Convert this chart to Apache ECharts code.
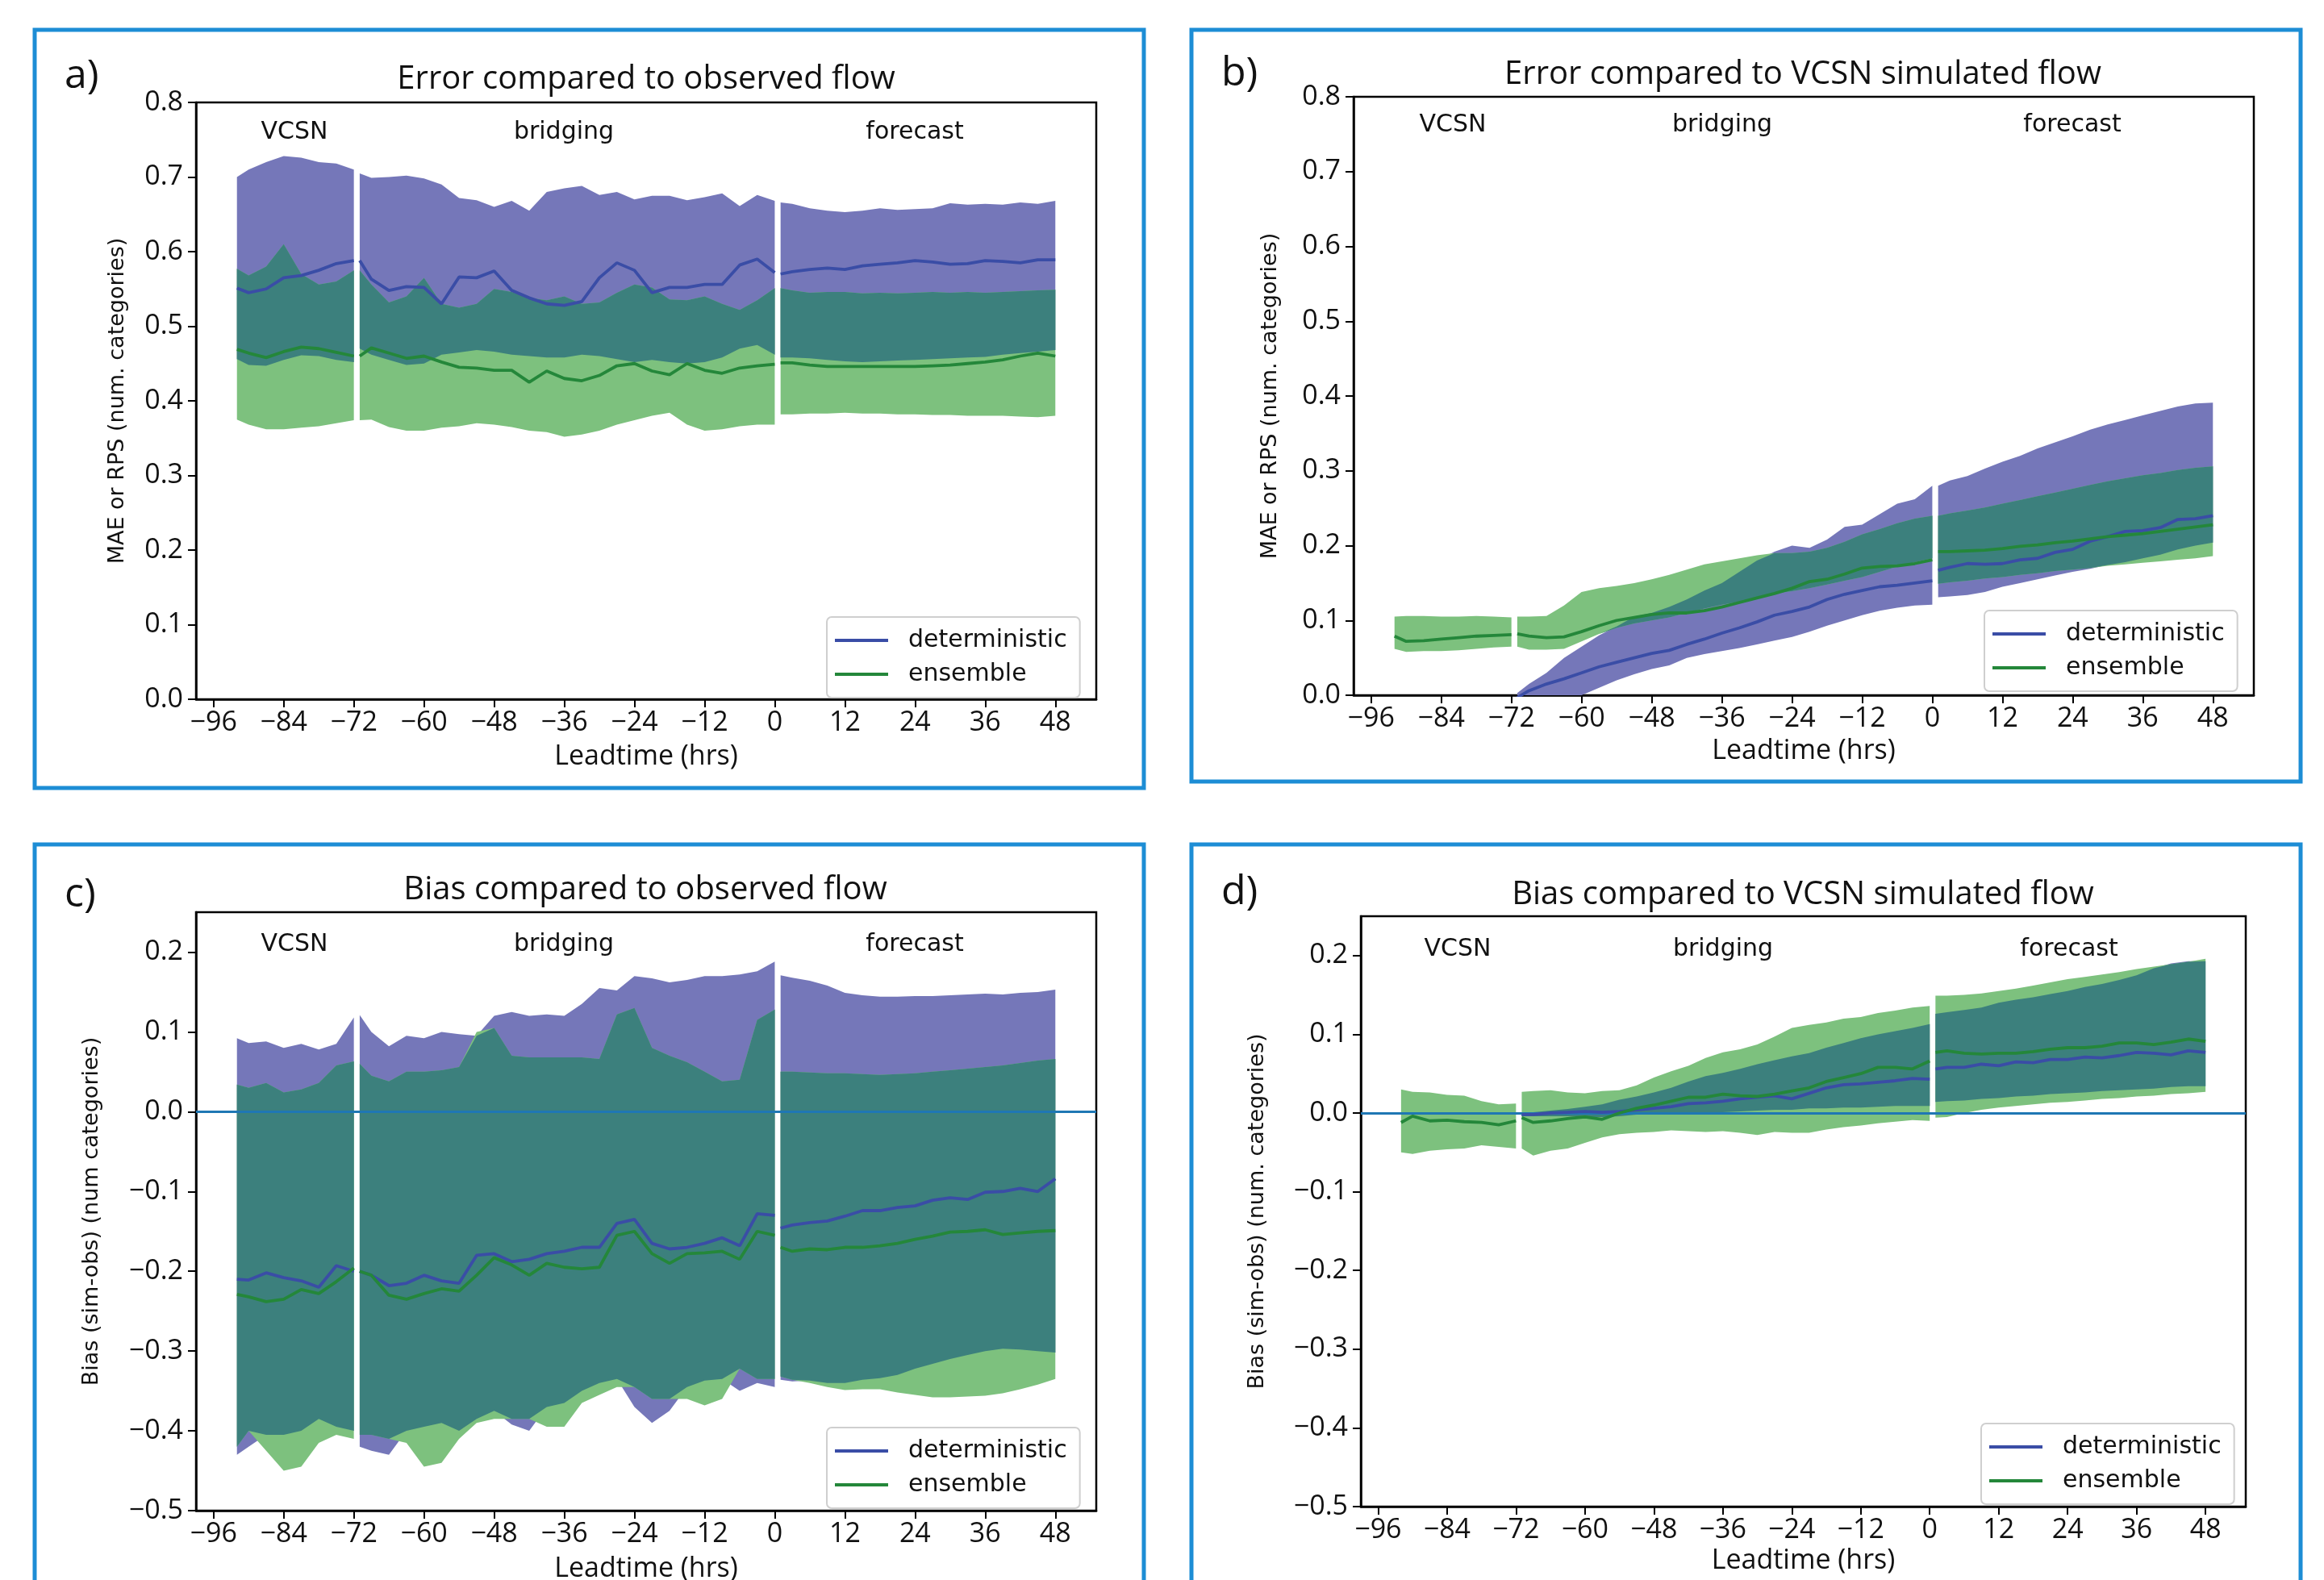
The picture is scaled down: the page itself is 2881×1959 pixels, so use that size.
<!DOCTYPE html>
<html><head><meta charset="utf-8">
<script src="https://cdn.jsdelivr.net/npm/echarts@6/dist/echarts.min.js"></script>
<style>html,body{margin:0;padding:0;background:#fff;} #c{width:2881px;height:1959px;}</style>
</head><body><div id="c"></div>
<script>
// ---------- tick labels / x positions ----------
const xTicks = [-96,-84,-72,-60,-48,-36,-24,-12,0,12,24,36,48];
const yTicksErr = [0.0,0.1,0.2,0.3,0.4,0.5,0.6,0.7,0.8];
const yTicksBias = [-0.5,-0.4,-0.3,-0.2,-0.1,0.0,0.1,0.2];
const vX = [-92,-90,-87,-84,-81,-78,-75,-72];
const bX = [-71,-69,-66,-63,-60,-57,-54,-51,-48,-45,-42,-39,-36,-33,-30,-27,-24,-21,-18,-15,-12,-9,-6,-3,0];
const fX = [1,3,6,9,12,15,18,21,24,27,30,33,36,39,42,45,48];

// ---------- panel a: error vs observed flow ----------
const aDetUpV = [0.700,0.710,0.720,0.728,0.726,0.720,0.718,0.710];
const aDetLoV = [0.456,0.448,0.447,0.455,0.461,0.460,0.455,0.452];
const aEnsUpV = [0.577,0.568,0.580,0.610,0.570,0.556,0.560,0.575];
const aEnsLoV = [0.375,0.368,0.362,0.362,0.364,0.366,0.370,0.374];
const aDetV   = [0.551,0.545,0.550,0.565,0.568,0.575,0.584,0.588];
const aEnsV   = [0.469,0.464,0.458,0.466,0.472,0.470,0.465,0.460];
const aDetUpB = [0.705,0.699,0.700,0.702,0.698,0.690,0.672,0.669,0.660,0.668,0.655,0.680,0.685,0.688,0.676,0.680,0.670,0.675,0.675,0.669,0.673,0.678,0.661,0.676,0.668];
const aDetLoB = [0.470,0.462,0.455,0.448,0.450,0.462,0.465,0.468,0.466,0.462,0.460,0.458,0.458,0.462,0.460,0.456,0.452,0.455,0.452,0.450,0.452,0.458,0.470,0.475,0.462];
const aEnsUpB = [0.575,0.556,0.532,0.540,0.565,0.530,0.525,0.530,0.550,0.546,0.538,0.535,0.540,0.530,0.532,0.545,0.556,0.552,0.536,0.535,0.540,0.530,0.522,0.535,0.551];
const aEnsLoB = [0.374,0.375,0.365,0.360,0.360,0.364,0.366,0.370,0.368,0.365,0.360,0.358,0.352,0.355,0.360,0.368,0.374,0.380,0.384,0.368,0.360,0.362,0.366,0.368,0.368];
const aDetB   = [0.588,0.563,0.548,0.553,0.552,0.530,0.566,0.565,0.574,0.548,0.538,0.530,0.528,0.533,0.565,0.585,0.575,0.545,0.552,0.552,0.556,0.556,0.582,0.590,0.572];
const aEnsB   = [0.460,0.471,0.464,0.457,0.460,0.452,0.445,0.444,0.441,0.441,0.425,0.440,0.430,0.427,0.434,0.447,0.450,0.440,0.435,0.450,0.441,0.437,0.444,0.447,0.449];
const aDetUpF = [0.666,0.664,0.658,0.655,0.653,0.655,0.658,0.656,0.657,0.658,0.665,0.663,0.664,0.663,0.666,0.664,0.668];
const aDetLoF = [0.458,0.458,0.457,0.455,0.453,0.452,0.453,0.454,0.455,0.456,0.457,0.458,0.459,0.462,0.464,0.466,0.468];
const aEnsUpF = [0.551,0.548,0.545,0.546,0.546,0.544,0.545,0.544,0.545,0.546,0.545,0.546,0.545,0.546,0.547,0.548,0.549];
const aEnsLoF = [0.382,0.382,0.383,0.383,0.384,0.383,0.383,0.382,0.382,0.381,0.381,0.380,0.380,0.380,0.379,0.378,0.380];
const aDetF   = [0.570,0.573,0.576,0.578,0.576,0.581,0.583,0.585,0.588,0.586,0.583,0.584,0.588,0.587,0.585,0.589,0.589];
const aEnsF   = [0.451,0.451,0.448,0.446,0.446,0.446,0.446,0.446,0.446,0.447,0.448,0.450,0.452,0.455,0.460,0.464,0.460];

// ---------- panel b: error vs VCSN simulated flow ----------
const bEnsUpV = [0.105,0.106,0.106,0.105,0.105,0.106,0.105,0.104];
const bEnsLoV = [0.062,0.058,0.059,0.059,0.060,0.062,0.064,0.065];
const bEnsV   = [0.079,0.072,0.073,0.075,0.077,0.079,0.080,0.081];
const bDetUpB = [0.003,0.015,0.030,0.050,0.065,0.080,0.092,0.105,0.110,0.118,0.128,0.140,0.150,0.165,0.180,0.192,0.200,0.197,0.208,0.225,0.228,0.242,0.256,0.262,0.280];
const bDetLoB = [-0.050,-0.040,-0.025,-0.010,0.000,0.010,0.020,0.028,0.035,0.040,0.050,0.055,0.059,0.063,0.068,0.073,0.078,0.085,0.093,0.100,0.107,0.113,0.117,0.120,0.121];
const bEnsUpB = [0.105,0.105,0.106,0.120,0.138,0.143,0.146,0.150,0.155,0.161,0.168,0.175,0.179,0.183,0.187,0.190,0.190,0.192,0.197,0.205,0.215,0.222,0.230,0.236,0.240];
const bEnsLoB = [0.065,0.061,0.061,0.062,0.072,0.082,0.090,0.096,0.100,0.104,0.110,0.116,0.121,0.125,0.130,0.136,0.139,0.143,0.148,0.153,0.158,0.165,0.172,0.178,0.183];
const bDetB   = [-0.003,0.006,0.015,0.022,0.030,0.038,0.044,0.050,0.056,0.060,0.068,0.075,0.083,0.090,0.098,0.107,0.112,0.118,0.128,0.135,0.140,0.145,0.147,0.150,0.153];
const bEnsB   = [0.082,0.079,0.077,0.078,0.085,0.093,0.100,0.104,0.108,0.110,0.110,0.113,0.118,0.124,0.130,0.136,0.143,0.152,0.155,0.162,0.170,0.172,0.173,0.176,0.181];
const bDetUpF = [0.280,0.287,0.293,0.303,0.312,0.320,0.330,0.338,0.346,0.355,0.362,0.368,0.374,0.380,0.386,0.390,0.391];
const bDetLoF = [0.131,0.132,0.134,0.138,0.145,0.150,0.155,0.160,0.165,0.169,0.174,0.178,0.183,0.188,0.195,0.200,0.204];
const bEnsUpF = [0.240,0.243,0.247,0.251,0.256,0.261,0.266,0.271,0.276,0.281,0.286,0.290,0.294,0.297,0.301,0.304,0.306];
const bEnsLoF = [0.149,0.151,0.153,0.156,0.158,0.161,0.163,0.166,0.168,0.170,0.173,0.175,0.177,0.179,0.181,0.183,0.186];
const bDetF   = [0.167,0.171,0.176,0.175,0.176,0.181,0.183,0.191,0.195,0.206,0.212,0.219,0.220,0.224,0.235,0.236,0.240];
const bEnsF   = [0.192,0.192,0.193,0.194,0.196,0.199,0.201,0.204,0.206,0.209,0.212,0.214,0.216,0.219,0.222,0.225,0.228];

// ---------- panel c: bias vs observed flow ----------
const cDetUpV = [0.092,0.086,0.088,0.080,0.085,0.078,0.085,0.118];
const cDetLoV = [-0.430,-0.420,-0.405,-0.405,-0.400,-0.385,-0.395,-0.400];
const cEnsUpV = [0.034,0.030,0.036,0.024,0.028,0.036,0.058,0.063];
const cEnsLoV = [-0.420,-0.400,-0.425,-0.450,-0.445,-0.415,-0.405,-0.410];
const cDetV   = [-0.210,-0.211,-0.202,-0.208,-0.212,-0.220,-0.193,-0.200];
const cEnsV   = [-0.229,-0.232,-0.238,-0.235,-0.223,-0.228,-0.213,-0.196];
const cDetUpB = [0.121,0.100,0.082,0.095,0.092,0.100,0.097,0.095,0.120,0.125,0.120,0.122,0.120,0.135,0.155,0.152,0.170,0.167,0.162,0.165,0.170,0.170,0.172,0.176,0.188];
const cDetLoB = [-0.420,-0.425,-0.430,-0.400,-0.395,-0.390,-0.400,-0.385,-0.375,-0.392,-0.400,-0.370,-0.365,-0.350,-0.340,-0.335,-0.370,-0.390,-0.375,-0.345,-0.337,-0.335,-0.350,-0.340,-0.345];
const cEnsUpB = [0.060,0.045,0.038,0.050,0.050,0.052,0.056,0.100,0.105,0.070,0.068,0.068,0.068,0.068,0.066,0.122,0.130,0.080,0.070,0.062,0.050,0.038,0.040,0.115,0.128];
const cEnsLoB = [-0.405,-0.405,-0.410,-0.415,-0.445,-0.440,-0.410,-0.390,-0.385,-0.385,-0.385,-0.395,-0.395,-0.365,-0.355,-0.345,-0.345,-0.360,-0.360,-0.360,-0.368,-0.360,-0.322,-0.335,-0.335];
const cDetB   = [-0.200,-0.205,-0.218,-0.215,-0.205,-0.212,-0.215,-0.180,-0.178,-0.188,-0.185,-0.178,-0.175,-0.170,-0.170,-0.140,-0.135,-0.165,-0.172,-0.170,-0.165,-0.158,-0.168,-0.128,-0.130];
const cEnsB   = [-0.200,-0.205,-0.230,-0.235,-0.228,-0.222,-0.225,-0.205,-0.183,-0.192,-0.205,-0.190,-0.195,-0.197,-0.195,-0.155,-0.150,-0.178,-0.190,-0.178,-0.177,-0.175,-0.185,-0.150,-0.155];
const cDetUpF = [0.171,0.168,0.164,0.158,0.149,0.146,0.144,0.144,0.145,0.145,0.146,0.147,0.148,0.147,0.149,0.150,0.153];
const cDetLoF = [-0.336,-0.338,-0.337,-0.340,-0.340,-0.336,-0.334,-0.330,-0.322,-0.316,-0.310,-0.305,-0.300,-0.297,-0.298,-0.300,-0.302];
const cEnsUpF = [0.050,0.050,0.049,0.048,0.048,0.047,0.046,0.047,0.048,0.050,0.052,0.054,0.056,0.058,0.061,0.064,0.066];
const cEnsLoF = [-0.332,-0.336,-0.340,-0.345,-0.349,-0.348,-0.348,-0.352,-0.355,-0.358,-0.358,-0.357,-0.356,-0.353,-0.348,-0.342,-0.335];
const cDetF   = [-0.146,-0.142,-0.139,-0.137,-0.131,-0.124,-0.124,-0.120,-0.118,-0.111,-0.108,-0.110,-0.101,-0.100,-0.096,-0.100,-0.084];
const cEnsF   = [-0.170,-0.175,-0.172,-0.173,-0.170,-0.170,-0.168,-0.165,-0.160,-0.156,-0.151,-0.150,-0.148,-0.154,-0.152,-0.150,-0.149];

// ---------- panel d: bias vs VCSN simulated flow ----------
const dEnsUpV = [0.030,0.027,0.026,0.023,0.022,0.015,0.011,0.012];
const dEnsLoV = [-0.050,-0.052,-0.048,-0.046,-0.045,-0.041,-0.043,-0.045];
const dEnsV   = [-0.012,-0.004,-0.010,-0.009,-0.011,-0.012,-0.015,-0.010];
const dDetUpB = [0.000,0.001,0.003,0.005,0.008,0.011,0.017,0.021,0.026,0.032,0.040,0.047,0.051,0.056,0.062,0.067,0.072,0.076,0.083,0.089,0.095,0.100,0.104,0.108,0.113];
const dDetLoB = [-0.004,-0.004,-0.004,-0.004,-0.005,-0.005,-0.004,-0.002,-0.001,0.000,0.000,0.000,0.001,0.002,0.003,0.004,0.004,0.006,0.006,0.007,0.007,0.008,0.009,0.009,0.009];
const dEnsUpB = [0.027,0.028,0.029,0.026,0.025,0.028,0.029,0.035,0.045,0.053,0.060,0.070,0.077,0.081,0.087,0.097,0.108,0.112,0.115,0.120,0.122,0.127,0.130,0.134,0.136];
const dEnsLoB = [-0.045,-0.054,-0.048,-0.045,-0.038,-0.031,-0.027,-0.025,-0.024,-0.022,-0.023,-0.024,-0.023,-0.025,-0.028,-0.024,-0.025,-0.025,-0.021,-0.018,-0.016,-0.013,-0.011,-0.009,-0.010];
const dDetB   = [-0.002,-0.002,0.000,0.001,0.002,0.001,0.002,0.004,0.006,0.008,0.012,0.013,0.015,0.018,0.020,0.022,0.018,0.025,0.032,0.036,0.037,0.039,0.041,0.044,0.043];
const dEnsB   = [-0.006,-0.012,-0.010,-0.007,-0.005,-0.008,0.000,0.006,0.010,0.015,0.020,0.020,0.024,0.022,0.021,0.024,0.028,0.032,0.040,0.045,0.050,0.058,0.058,0.056,0.066];
const dDetUpF = [0.126,0.128,0.131,0.134,0.140,0.144,0.147,0.151,0.155,0.160,0.164,0.169,0.175,0.184,0.190,0.193,0.193];
const dDetLoF = [0.014,0.015,0.016,0.018,0.019,0.021,0.022,0.024,0.025,0.026,0.028,0.029,0.030,0.031,0.033,0.034,0.034];
const dEnsUpF = [0.149,0.149,0.150,0.152,0.155,0.158,0.162,0.166,0.170,0.173,0.176,0.179,0.183,0.186,0.189,0.192,0.196];
const dEnsLoF = [-0.006,-0.005,0.000,0.004,0.007,0.009,0.011,0.013,0.014,0.016,0.018,0.019,0.021,0.022,0.024,0.025,0.027];
const dDetF   = [0.056,0.058,0.058,0.062,0.060,0.065,0.064,0.068,0.068,0.071,0.070,0.073,0.077,0.076,0.074,0.079,0.077];
const dEnsF   = [0.077,0.079,0.076,0.075,0.076,0.076,0.078,0.081,0.083,0.083,0.085,0.089,0.089,0.087,0.090,0.094,0.091];

// ---------- assemble ----------
const seg = (x, detUp, detLo, ensUp, ensLo, det, ens) => ({x, detUp, detLo, ensUp, ensLo, det, ens});
const panelSegs = [
  [seg(vX,aDetUpV,aDetLoV,aEnsUpV,aEnsLoV,aDetV,aEnsV), seg(bX,aDetUpB,aDetLoB,aEnsUpB,aEnsLoB,aDetB,aEnsB), seg(fX,aDetUpF,aDetLoF,aEnsUpF,aEnsLoF,aDetF,aEnsF)],
  [seg(vX,null,null,bEnsUpV,bEnsLoV,null,bEnsV), seg(bX,bDetUpB,bDetLoB,bEnsUpB,bEnsLoB,bDetB,bEnsB), seg(fX,bDetUpF,bDetLoF,bEnsUpF,bEnsLoF,bDetF,bEnsF)],
  [seg(vX,cDetUpV,cDetLoV,cEnsUpV,cEnsLoV,cDetV,cEnsV), seg(bX,cDetUpB,cDetLoB,cEnsUpB,cEnsLoB,cDetB,cEnsB), seg(fX,cDetUpF,cDetLoF,cEnsUpF,cEnsLoF,cDetF,cEnsF)],
  [seg(vX,null,null,dEnsUpV,dEnsLoV,null,dEnsV), seg(bX,dDetUpB,dDetLoB,dEnsUpB,dEnsLoB,dDetB,dEnsB), seg(fX,dDetUpF,dDetLoF,dEnsUpF,dEnsLoF,dDetF,dEnsF)]
];

const COL = {det:'#3a4da6', ens:'#24873a', detBand:'#7577b9', ensBand:'#7dc17e', both:'#3c807d', zero:'#1f77b4', box:'#1d8dd5'};
const FT = '"Open Sans", sans-serif', FD = '"DejaVu Sans", sans-serif';

const layout = [
  {grid:{left:243,top:127,width:1116,height:740}, y:[0,0.8], ticks:yTicksErr, zero:false,
   title:'Error compared to observed flow', tx:801, ty:99, letter:'a)', lx:80, ly:95,
   ylab:'MAE or RPS (num. categories)', ylx:146, xly:938, ry:164, rx:[365,699,1134], leg:[1025,765], box:[43,37,1375,940]},
  {grid:{left:1678,top:120,width:1116,height:742}, y:[0,0.8], ticks:yTicksErr, zero:false,
   title:'Error compared to VCSN simulated flow', tx:2235, ty:93, letter:'b)', lx:1514, ly:92,
   ylab:'MAE or RPS (num. categories)', ylx:1575, xly:931, ry:155, rx:[1801,2135,2569], leg:[2460,757], box:[1477,37,1375,932]},
  {grid:{left:243,top:1131,width:1116,height:742}, y:[-0.5,0.25], ticks:yTicksBias, zero:true,
   title:'Bias compared to observed flow', tx:800, ty:1104, letter:'c)', lx:80, ly:1110,
   ylab:'Bias (sim-obs) (num categories)', ylx:114, xly:1945, ry:1171, rx:[365,699,1134], leg:[1025,1770], box:[43,1047,1375,1000]},
  {grid:{left:1687,top:1136,width:1097,height:732}, y:[-0.5,0.25], ticks:yTicksBias, zero:true,
   title:'Bias compared to VCSN simulated flow', tx:2235, ty:1110, letter:'d)', lx:1514, ly:1107,
   ylab:'Bias (sim-obs) (num. categories)', ylx:1559, xly:1935, ry:1177, rx:[1807,2136,2565], leg:[2456,1765], box:[1477,1047,1375,1000]}
];

const pairs = (xs, ys) => xs.map((x,i)=>[x, ys[i]]);
const fmtX = v => (v<0?'\u2212':'') + Math.abs(v);
const fmtY = v => (v < -1e-9 ? '\u2212' : '') + Math.abs(v).toFixed(1);

const grids=[], xAxes=[], yAxes=[], series=[], legends=[], graphics=[];

// band between lo and up drawn as a polygon through the axes' own scales (api.coord)
function band(gi, xs, lo, up, color, z){
  series.push({type:'custom', coordinateSystem:'cartesian2d', xAxisIndex:gi, yAxisIndex:gi, silent:true, z,
    data: xs.map((x,i)=>[x, lo[i], up[i]]),
    encode:{x:0, y:[1,2]},
    renderItem: (params, api) => {
      if (params.dataIndex !== 0) return null;
      const pts = [];
      for (let i=0;i<xs.length;i++) pts.push(api.coord([xs[i], up[i]]));
      for (let i=xs.length-1;i>=0;i--) pts.push(api.coord([xs[i], lo[i]]));
      const cs = params.coordSys;
      return {type:'polygon', shape:{points:pts}, style:{fill:color, stroke:null},
        clipPath:{type:'rect', shape:{x:cs.x, y:cs.y, width:cs.width, height:cs.height}}};
    }});
}
function line(gi, xs, ys, name, color, z){
  series.push({type:'line', name, xAxisIndex:gi, yAxisIndex:gi, data:pairs(xs, ys), symbol:'none', showSymbol:false,
    lineStyle:{color, width:3.8}, itemStyle:{color}, color, z, clip:true, emphasis:{disabled:true}});
}

layout.forEach((L, gi) => {
  grids.push(Object.assign({show:true, borderColor:'#000', borderWidth:2.5, backgroundColor:'rgba(0,0,0,0)'}, L.grid));
  xAxes.push({gridIndex:gi, type:'value', min:-99, max:55,
    axisLine:{show:true, onZero:false, lineStyle:{color:'#000', width:2.5}},
    axisTick:{show:true, length:10, lineStyle:{color:'#000', width:2}, customValues:xTicks},
    axisLabel:{customValues:xTicks, formatter:fmtX, fontFamily:FT, fontSize:34, color:'#111', margin:12},
    splitLine:{show:false}});
  yAxes.push({gridIndex:gi, type:'value', min:L.y[0], max:L.y[1],
    axisLine:{show:true, onZero:false, lineStyle:{color:'#000', width:2.5}},
    axisTick:{show:true, length:10, lineStyle:{color:'#000', width:2}, customValues:L.ticks},
    axisLabel:{customValues:L.ticks, formatter:fmtY, fontFamily:FT, fontSize:34, color:'#111', margin:16},
    splitLine:{show:false}});

  panelSegs[gi].forEach(S => {
    if (S.detUp) band(gi, S.x, S.detLo, S.detUp, COL.detBand, 2);
    band(gi, S.x, S.ensLo, S.ensUp, COL.ensBand, 3);
    if (S.detUp) {
      const lo = S.x.map((_,i)=>Math.max(S.detLo[i], S.ensLo[i]));
      const hi = S.x.map((_,i)=>Math.max(lo[i], Math.min(S.detUp[i], S.ensUp[i])));
      band(gi, S.x, lo, hi, COL.both, 4);
    }
  });
  if (L.zero) {
    series.push({type:'line', name:'zero'+gi, xAxisIndex:gi, yAxisIndex:gi, data:[], silent:true, z:5,
      markLine:{silent:true, symbol:['none','none'], label:{show:false}, animation:false,
        lineStyle:{color:COL.zero, width:3, type:'solid'}, emphasis:{disabled:true}, data:[{yAxis:0}]}});
  }
  panelSegs[gi].forEach(S => {
    if (S.det) line(gi, S.x, S.det, 'deterministic', COL.det, 6);
    line(gi, S.x, S.ens, 'ensemble', COL.ens, 7);
  });

  legends.push({left:L.leg[0], top:L.leg[1], orient:'vertical', itemWidth:66, itemHeight:4, itemGap:12,
    padding:[14,16,14,10], backgroundColor:'#fff', borderColor:'#cfcfcf', borderWidth:2, borderRadius:6,
    selectedMode:false, icon:'rect',
    textStyle:{fontFamily:FD, fontSize:30, color:'#111', lineHeight:30, padding:[0,0,0,20]},
    data:[{name:'deterministic'},{name:'ensemble'}]});

  const b = L.box;
  graphics.push({type:'rect', shape:{x:b[0], y:b[1], width:b[2], height:b[3]}, style:{fill:null, stroke:COL.box, lineWidth:5}, silent:true, z:100});
  graphics.push({type:'text', x:L.tx, y:L.ty, style:{text:L.title, font:'40px '+FT, fill:'#111', align:'center', verticalAlign:'middle'}, silent:true});
  graphics.push({type:'text', x:L.lx, y:L.ly, style:{text:L.letter, font:'50px '+FT, fill:'#111', align:'left', verticalAlign:'middle'}, silent:true});
  graphics.push({type:'text', x:L.ylx, y:L.grid.top + L.grid.height/2, rotation:Math.PI/2,
    style:{text:L.ylab, font:'27px '+FD, fill:'#111', align:'center', verticalAlign:'middle'}, silent:true});
  graphics.push({type:'text', x:L.grid.left + L.grid.width/2, y:L.xly, style:{text:'Leadtime (hrs)', font:'34px '+FT, fill:'#111', align:'center', verticalAlign:'middle'}, silent:true});
  ['VCSN','bridging','forecast'].forEach((t, k) => {
    graphics.push({type:'text', x:L.rx[k], y:L.ry, style:{text:t, font:'30px '+FD, fill:'#111', align:'center', verticalAlign:'middle'}, silent:true, z:50});
  });
});

const chart = echarts.init(document.getElementById('c'), null, {renderer:'canvas', width:2881, height:1959});
chart.setOption({
  animation:false, backgroundColor:'#fff',
  grid:grids, xAxis:xAxes, yAxis:yAxes, series, legend:legends, graphic:graphics
});
</script></body></html>
